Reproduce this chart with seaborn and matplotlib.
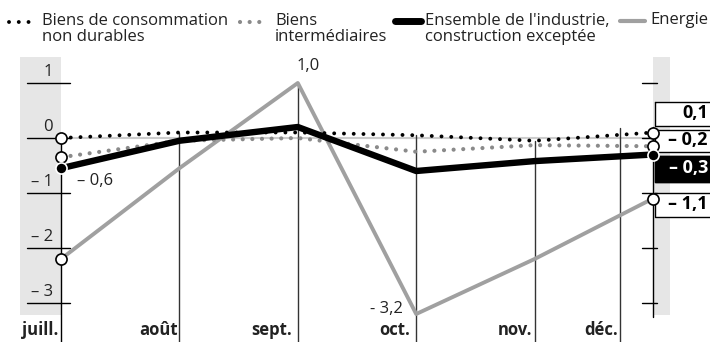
import numpy as np
import pandas as pd
import matplotlib
matplotlib.use("Agg")
import matplotlib.pyplot as plt
import seaborn as sns

# data
months = ["juill.", "août", "sept.", "oct.", "nov.", "déc."]
conso = [0.0, 0.1, 0.1, 0.05, -0.05, 0.1]        # Biens de consommation non durables
interm = [-0.35, -0.05, 0.0, -0.25, -0.13, -0.15]  # Biens intermédiaires
ensemble = [-0.55, -0.05, 0.2, -0.6, -0.42, -0.3]  # Ensemble de l'industrie
energie = [-2.2, -0.55, 1.0, -3.2, -2.2, -1.1]     # Energie
end_labels = ["0,1", "– 0,2", "– 0,3", "– 1,1"]
yticks = [1, 0, -1, -2, -3]
ytick_labels = ["1", "0", "– 1", "– 2", "– 3"]

sns.set_style("white")
plt.rcParams["font.family"] = ["Open Sans", "DejaVu Sans"]

W, H = 710, 342
fig = plt.figure(figsize=(W / 100, H / 100), dpi=100)
ax = fig.add_axes([0, 0, 1, 1])

# pixel -> data helpers (x0 = juill. axis at 61px, 118.4 px per month, 0 at 138px, 55 px per unit)
X0, DX, Y0, DY = 61, 118.4, 138, 55
def px(x):
    return (x - X0) / DX
def py(y):
    return (Y0 - y) / DY

ax.set_xlim(px(0), px(W))
ax.set_ylim(py(H), py(0))
ax.axis("off")

x = np.arange(len(months))
df = pd.DataFrame({"x": x, "conso": conso, "interm": interm,
                   "ensemble": ensemble, "energie": energie})

# grey bands behind the two axes
ax.axvspan(px(20), px(61), ymin=1 - 315 / H, ymax=1 - 57 / H, color="#e6e6e6", lw=0, zorder=0)
ax.axvspan(px(653), px(670), ymin=1 - 315 / H, ymax=1 - 57 / H, color="#e6e6e6", lw=0, zorder=0)

# zero line
ax.plot([0, 5], [0, 0], color="#cccccc", lw=1.5, zorder=1)

# month separators
for i in range(1, 5):
    top = max(conso[i], interm[i], ensemble[i], energie[i])
    ax.plot([i, i], [top, py(342)], color="#333333", lw=1, zorder=1)
ax.plot([px(620)] * 2, [py(128), py(342)], color="#333333", lw=1, zorder=1)
ax.plot([0, 0], [0, py(342)], color="black", lw=1, zorder=1)
ax.plot([5, 5], [py(127), py(317)], color="black", lw=1, zorder=1)

# ticks on both axes
for t, lab in zip(yticks, ytick_labels):
    ax.plot([px(27), px(70)], [t, t], color="black", lw=1, zorder=1)
    ax.plot([px(642), px(657)], [t, t], color="black", lw=1, zorder=1)
    ax.text(px(53), t + py(127) - py(138), lab, ha="right", va="center",
            fontsize=12, color="#222222")

# series
sns.lineplot(data=df, x="x", y="energie", ax=ax, color="#a0a0a0", lw=2.8,
             zorder=2, sort=False)
sns.lineplot(data=df, x="x", y="interm", ax=ax, color="#8a8a8a", lw=3,
             linestyle=(0, (0.01, 2.3)), dash_capstyle="round", zorder=3, sort=False)
sns.lineplot(data=df, x="x", y="conso", ax=ax, color="black", lw=2.8,
             linestyle=(0, (0.01, 2.5)), dash_capstyle="round", zorder=3, sort=False)
sns.lineplot(data=df, x="x", y="ensemble", ax=ax, color="black", lw=4.6,
             zorder=4, sort=False)

# end markers
for s in [conso, interm, energie]:
    ax.plot([0, 5], [s[0], s[-1]], ls="none", marker="o", ms=8,
            mfc="white", mec="black", mew=1.2, zorder=6)
ax.plot([0, 5], [ensemble[0], ensemble[-1]], ls="none", marker="o", ms=8,
        mfc="black", mec="white", mew=1.2, zorder=6)

# value annotations
ax.text(px(297), py(66), "1,0", ha="left", va="center", fontsize=12, color="#222222")
ax.text(px(77), py(181), "– 0,6", ha="left", va="center", fontsize=12, color="#222222")
ax.text(px(403), py(309), "- 3,2", ha="right", va="center", fontsize=12, color="#222222")

# boxed labels on the right
boxes = [(102, 126), (130, 152), (156, 182), (193, 217)]
for (y1, y2), lab in zip(boxes, end_labels):
    dark = lab == "– 0,3"
    ax.fill_between([px(655), px(712)], py(y2), py(y1),
                    color="black" if dark else "white", zorder=5)
    ax.plot([px(655), px(712), px(712), px(655), px(655)],
            [py(y1), py(y1), py(y2), py(y2), py(y1)], color="black", lw=1, zorder=5)
    ax.text(px(708), py((y1 + y2) / 2 - 1), lab, ha="right", va="center", fontsize=13,
            fontweight="bold", color="white" if dark else "black", zorder=7)

# month labels
label_right = [58, 178, 292, 410, 532, 618]
for m, xr in zip(months, label_right):
    ax.text(px(xr), py(330), m, ha="right", va="center", fontsize=12,
            fontweight="bold", color="#222222")

# legend
ax.plot([px(9), px(30)], [py(22), py(22)], color="black", lw=2.8,
        linestyle=(0, (0.01, 2.5)), dash_capstyle="round")
ax.text(px(42), py(29), "Biens de consommation\nnon durables", ha="left", va="center",
        fontsize=12, linespacing=0.92, color="#222222")
ax.plot([px(240), px(264)], [py(22), py(22)], color="#8a8a8a", lw=3,
        linestyle=(0, (0.01, 2.3)), dash_capstyle="round")
ax.text(px(275), py(29), "Biens\nintermédiaires", ha="left", va="center",
        fontsize=12, linespacing=0.92, color="#222222")
ax.plot([px(395), px(421)], [py(21), py(21)], color="black", lw=5,
        solid_capstyle="round")
ax.text(px(425), py(29), "Ensemble de l'industrie,\nconstruction exceptée", ha="left",
        va="center", fontsize=12, linespacing=0.92, color="#222222")
ax.plot([px(620), px(645)], [py(21), py(21)], color="#a0a0a0", lw=3,
        solid_capstyle="round")
ax.text(px(650), py(20), "Energie", ha="left", va="center", fontsize=12, color="#222222")

fig.savefig("out.png", dpi=100)
